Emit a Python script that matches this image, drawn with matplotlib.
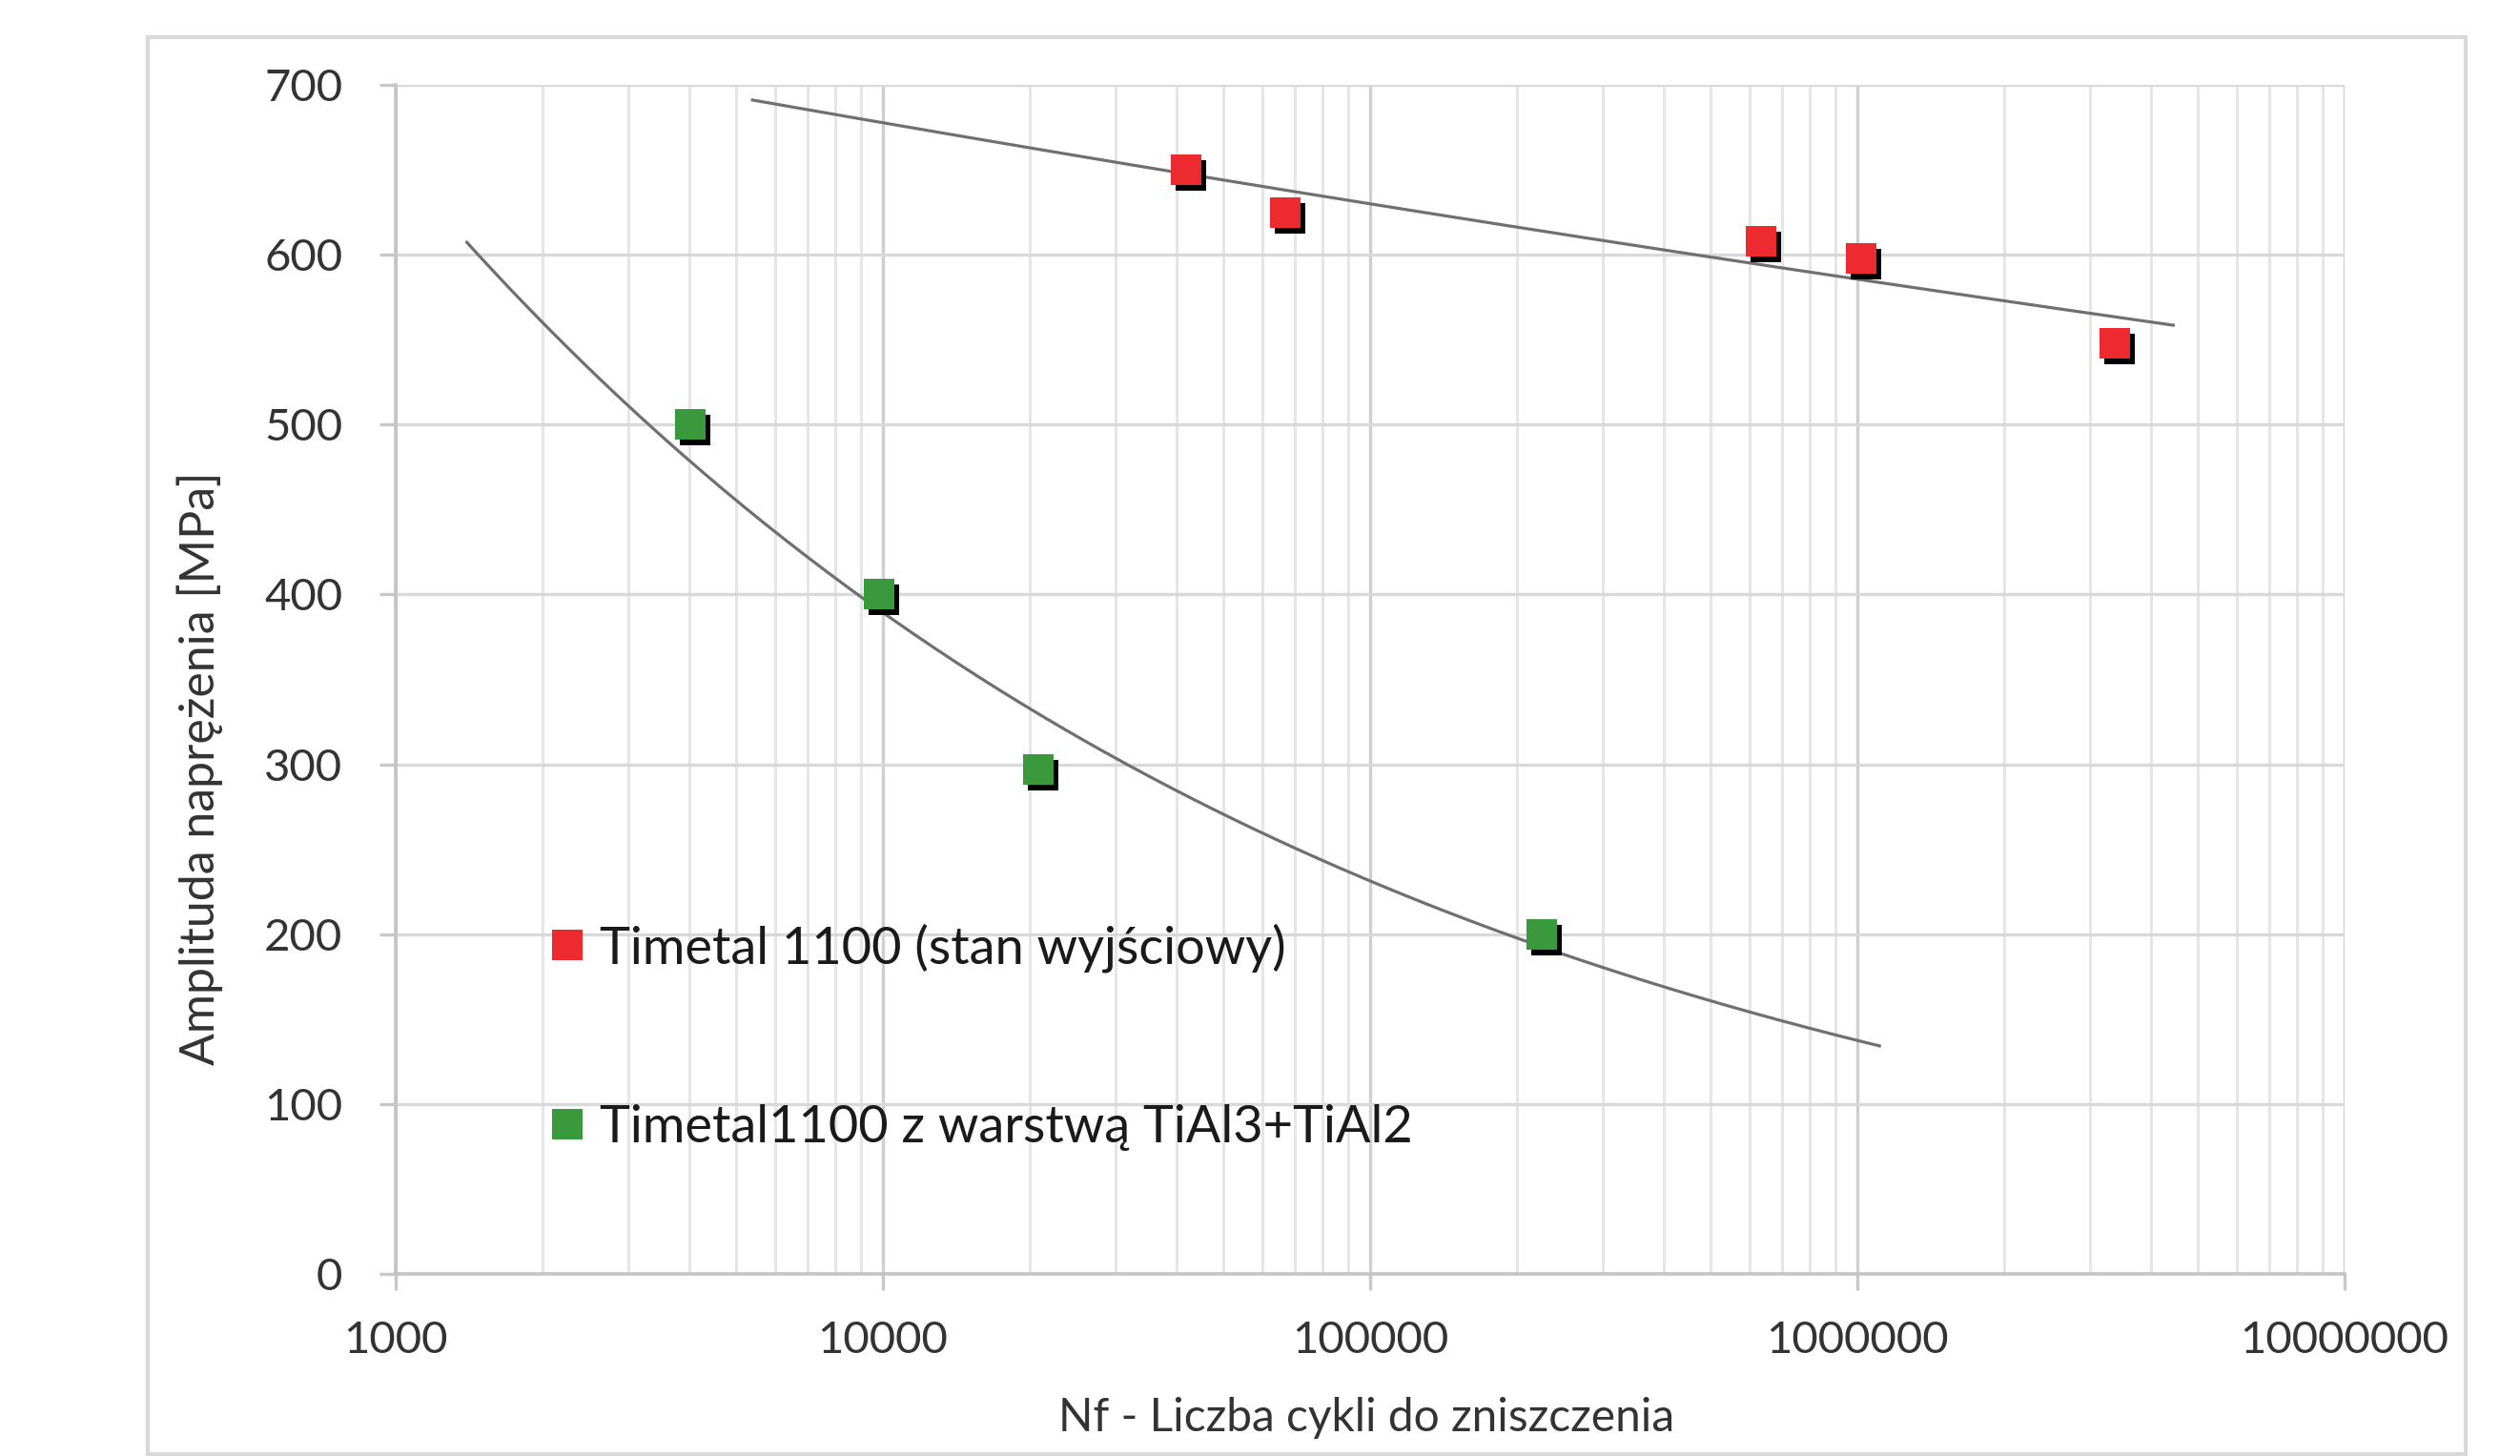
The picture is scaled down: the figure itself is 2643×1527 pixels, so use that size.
import numpy as np
import matplotlib
matplotlib.use("Agg")
import matplotlib.pyplot as plt
from matplotlib.lines import Line2D
from matplotlib.patches import Rectangle
from matplotlib.transforms import offset_copy

plt.rcParams['font.family'] = ['Lato', 'DejaVu Sans']

# dane
nf_base = [41900, 67000, 634000, 1020000, 3370000]
sa_base = [650, 625, 608, 598, 548]
nf_coat = [4030, 9800, 20800, 225000]
sa_coat = [500, 400, 297, 200]

# zakres linii trendu (potegowa, jak w Excelu)
trend_base_rng = [5400, 4450000]
trend_coat_rng = [1400, 1110000]

lab_base = 'Timetal 1100 (stan wyjściowy)'
lab_coat = 'Timetal1100 z warstwą TiAl3+TiAl2'
x_ticks = [1000, 10000, 100000, 1000000, 10000000]
y_ticks = [0, 100, 200, 300, 400, 500, 600, 700]

c_red = '#ec2a30'
c_green = '#3a983d'
c_trend = '#707070'

W, H = 2643, 1527
fig = plt.figure(figsize=(W / 100, H / 100), dpi=100)
fig.patch.set_facecolor('white')

# ramka wokol wykresu
fig.patches.append(Rectangle((155 / W, 1 - 1525 / H), (2586 - 155) / W, (1525 - 39) / H,
                             transform=fig.transFigure, fill=False,
                             edgecolor='#d9d9d9', linewidth=3))

ax = fig.add_axes([415 / W, 1 - 1336 / H, (2459 - 415) / W, (1336 - 89) / H])
ax.set_xscale('log')
ax.set_xlim(1000, 1e7)
ax.set_ylim(0, 700)


def power_fit(x, y, rng):
    b, lna = np.polyfit(np.log(x), np.log(y), 1)
    xs = np.logspace(np.log10(rng[0]), np.log10(rng[1]), 200)
    return xs, np.exp(lna) * xs ** b


xs, ys = power_fit(nf_base, sa_base, trend_base_rng)
ax.plot(xs, ys, color=c_trend, lw=2.3, zorder=3)
xs, ys = power_fit(nf_coat, sa_coat, trend_coat_rng)
ax.plot(xs, ys, color=c_trend, lw=2.3, zorder=3)

# cien pod markerami
shadow = offset_copy(ax.transData, fig=fig, x=5, y=-6, units='dots')
for nf, sa, col in [(nf_base, sa_base, c_red), (nf_coat, sa_coat, c_green)]:
    ax.plot(nf, sa, 's', ms=23, color='black', mew=0, transform=shadow, zorder=4)
    ax.plot(nf, sa, 's', ms=23, color=col, mew=0, zorder=5)

# siatka
ax.set_xticks(x_ticks)
ax.set_xticklabels([str(t) for t in x_ticks])
ax.set_yticks(y_ticks)
ax.set_yticklabels([str(t) for t in y_ticks])
ax.minorticks_on()
ax.yaxis.set_minor_locator(matplotlib.ticker.NullLocator())
ax.grid(True, which='major', axis='y', color='#d9d9d9', lw=2.4, zorder=0)
ax.grid(True, which='major', axis='x', color='#cfcfcf', lw=2.4, zorder=0)
ax.grid(True, which='minor', axis='x', color='#e6e6e6', lw=2.2, zorder=0)
ax.set_axisbelow(True)

for s in ['top', 'right']:
    ax.spines[s].set_visible(False)
for s in ['left', 'bottom']:
    ax.spines[s].set_color('#c4c4c4')
    ax.spines[s].set_linewidth(2.6)

ax.tick_params(axis='both', which='major', length=12, width=2.4, color='#c8c8c8',
               labelsize=34, labelcolor='#333333')
ax.tick_params(axis='x', which='major', pad=23)
ax.tick_params(axis='y', which='major', pad=28)
ax.tick_params(axis='x', which='minor', length=0)

ax.set_xlabel('Nf - Liczba cykli do zniszczenia', fontsize=34.5, color='#333333')
ax.set_ylabel('Amplituda naprężenia [MPa]', fontsize=36, color='#333333')
ax.xaxis.set_label_coords((1433 - 415) / (2459 - 415), -(1465 - 1336) / (1336 - 89))
ax.yaxis.set_label_coords(-(415 - 234) / (2459 - 415), (1336 - 806) / (1336 - 89))

handles = [Line2D([], [], ls='none', marker='s', ms=23, mew=0, color=c_red),
           Line2D([], [], ls='none', marker='s', ms=23, mew=0, color=c_green)]
leg = ax.legend(handles, [lab_base, lab_coat], loc='upper left',
                bbox_to_anchor=((578 - 415) / (2459 - 415), (1336 - 968) / (1336 - 89)),
                frameon=False, fontsize=39, handlelength=0.62, handletextpad=0.32,
                labelspacing=2.55, borderpad=0, borderaxespad=0)
for t in leg.get_texts():
    t.set_color('#1a1a1a')

fig.savefig('out.png', dpi=100, facecolor='white')
